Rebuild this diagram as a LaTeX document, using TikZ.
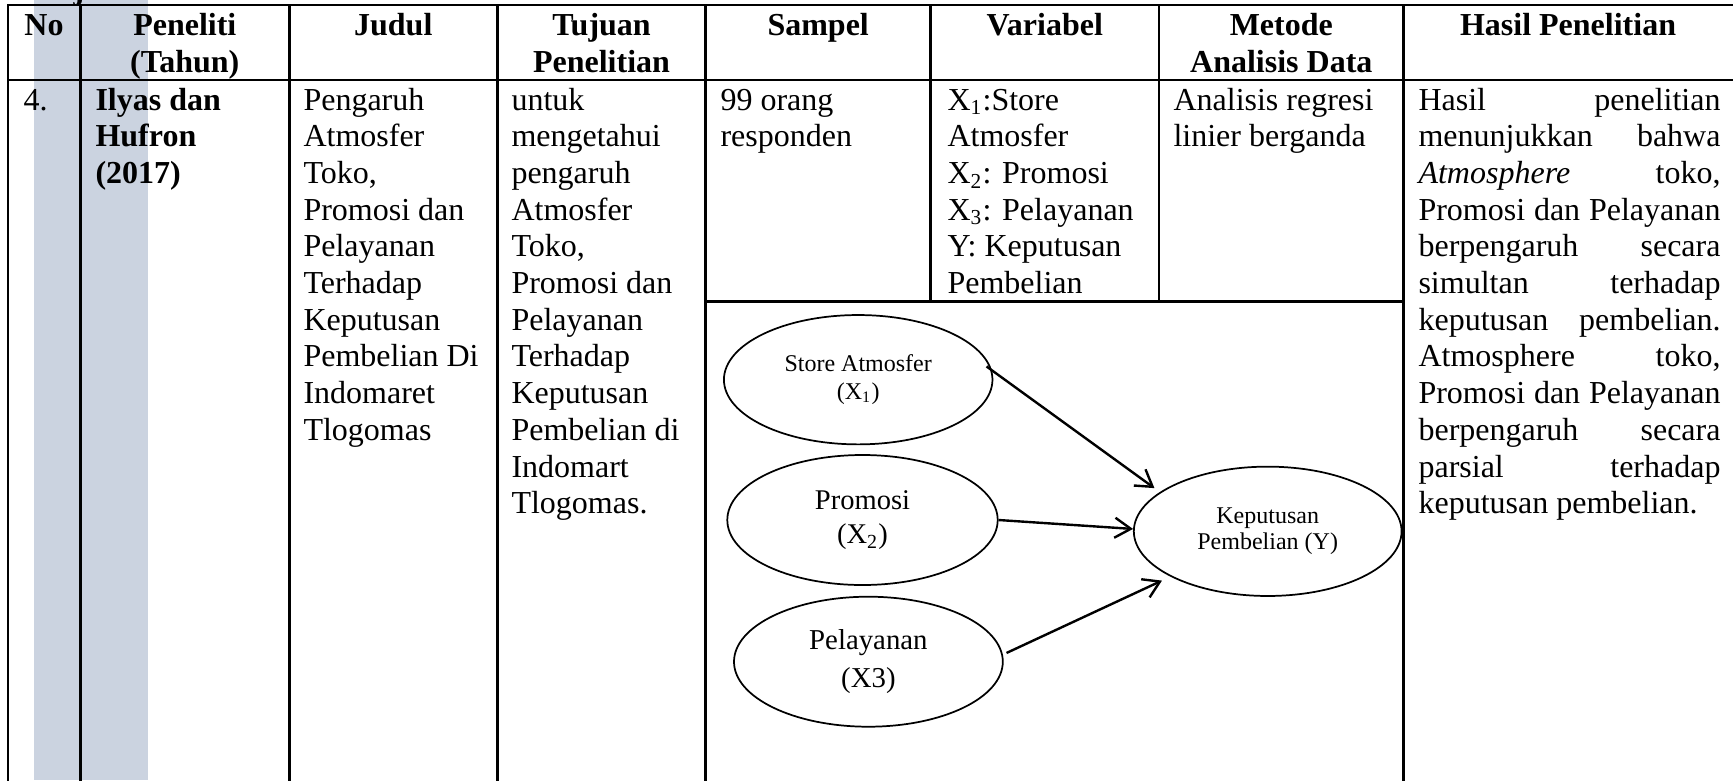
\documentclass[tikz,border=0pt]{standalone}
\usepackage{fontspec}
\setmainfont{Liberation Serif}
\usetikzlibrary{shapes.geometric,arrows.meta}
\definecolor{bandblue}{RGB}{203,211,224}
\newcommand\jline[1]{\makebox[113.25pt][s]{#1}}
\begin{document}
\begin{tikzpicture}[x=0.375pt,y=-0.375pt,
  grid/.style={line width=1pt,line cap=rect},
  cell/.style={anchor=base west,inner sep=0pt,font=\fontsize{12pt}{13.8pt}\selectfont},
  head/.style={anchor=base,inner sep=0pt,font=\fontsize{12pt}{13.8pt}\selectfont\bfseries},
  oval/.style={ellipse,draw,line width=0.65pt,inner sep=0pt,align=center},
  link/.style={line width=0.9pt,-{Straight Barb[length=6pt,width=7.5pt]}}]
\useasboundingbox (0,0) rectangle (1733,780);
% shaded band behind the first columns
\fill[bandblue] (34.4,0) rectangle (148.3,780);
% end of the line above the table
\node[anchor=base west,inner sep=0pt,font=\fontsize{12pt}{14pt}\selectfont\bfseries] (frag) at (73,-1) {j};
% table rules
\draw[grid] (1733,5) -- (8,5) -- (8,780);
\draw[grid] (8,80) -- (1733,80);
\foreach \cx in {80.3,289.3,497.2,705.7,1403.6} \draw[grid] (\cx,5) -- (\cx,780);
\foreach \cx in {930.6,1159} \draw[grid] (\cx,5) -- (\cx,301.7);
\draw[grid] (705.7,301.7) -- (1403.6,301.7);
% header row
\node[head] (hNo) at (44,35) {No};
\node[head] (hPen1) at (184.8,35) {Peneliti};
\node[head] (hPen2) at (184.8,72) {(Tahun)};
\node[head] (hJud) at (393.3,35) {Judul};
\node[head] (hTuj1) at (601.5,35) {Tujuan};
\node[head] (hTuj2) at (601.5,72) {Penelitian};
\node[head] (hSam) at (818.2,35) {Sampel};
\node[head] (hVar) at (1044.8,35) {Variabel};
\node[head] (hMet1) at (1281.3,35) {Metode};
\node[head] (hMet2) at (1281.3,72) {Analisis Data};
\node[head] (hHas) at (1568,35) {Hasil Penelitian};
% body row
\node[cell] (no) at (23,110) {4.};
\foreach \t [count=\i from 0] in {Ilyas dan,Hufron,(2017)}
  \node[cell,font=\fontsize{12pt}{13.8pt}\selectfont\bfseries] (pen\i) at (95,{110+36.7*\i}) {\t};
\foreach \t [count=\i from 0] in {Pengaruh,Atmosfer,{Toko,},Promosi dan,Pelayanan,Terhadap,Keputusan,Pembelian Di,Indomaret,Tlogomas}
  \node[cell] (jud\i) at (303,{110+36.7*\i}) {\t};
\foreach \t [count=\i from 0] in {untuk,mengetahui,pengaruh,Atmosfer,{Toko,},Promosi dan,Pelayanan,Terhadap,Keputusan,Pembelian di,Indomart,Tlogomas.}
  \node[cell] (tuj\i) at (511,{110+36.7*\i}) {\t};
\foreach \t [count=\i from 0] in {99 orang,responden}
  \node[cell] (sam\i) at (720,{110+36.7*\i}) {\t};
\foreach \t [count=\i from 0] in {X\textsubscript{1}:Store,Atmosfer,X\textsubscript{2}: Promosi,X\textsubscript{3}: Pelayanan,Y: Keputusan,Pembelian}
  \node[cell] (var\i) at (947,{110+36.7*\i}) {\t};
\foreach \t [count=\i from 0] in {Analisis regresi,linier berganda}
  \node[cell] (met\i) at (1173,{110+36.7*\i}) {\t};
\foreach \t [count=\i from 0] in {Hasil penelitian,menunjukkan bahwa,{\textit{Atmosphere} toko,},Promosi dan Pelayanan,berpengaruh secara,simultan terhadap,keputusan pembelian.,{Atmosphere toko,},Promosi dan Pelayanan,berpengaruh secara,parsial terhadap}
  \node[cell] (has\i) at (1418,{110+36.7*\i}) {\jline{\t}};
\node[cell] (has11) at (1418,{110+36.7*11}) {keputusan pembelian.};
% research model
\node[oval,minimum width=100.7pt,minimum height=48.5pt,font=\fontsize{9pt}{10.5pt}\selectfont]
  (x1) at (858.2,379.7) {Store Atmosfer\\(X\textsubscript{1})};
\node[oval,minimum width=101.4pt,minimum height=48.75pt,font=\fontsize{10.7pt}{13pt}\selectfont]
  (x2) at (862.5,520) {Promosi\\(X\textsubscript{2})};
\node[oval,minimum width=100.8pt,minimum height=48.75pt,font=\fontsize{10.8pt}{14pt}\selectfont]
  (x3) at (868.4,661.7) {Pelayanan\\(X3)};
\node[oval,minimum width=100.4pt,minimum height=48.5pt,font=\fontsize{9pt}{10pt}\selectfont]
  (y) at (1267.7,531.3) {Keputusan\\Pembelian (Y)};
\draw[link,shorten <=-2.5pt,shorten >=2.5pt] (x1.4) -- (y.160);
\draw[link] (x2.east) -- (y.179);
\draw[link,shorten <=1.5pt,shorten >=3.5pt] (x3.3) -- (y.205);
\end{tikzpicture}
\end{document}
